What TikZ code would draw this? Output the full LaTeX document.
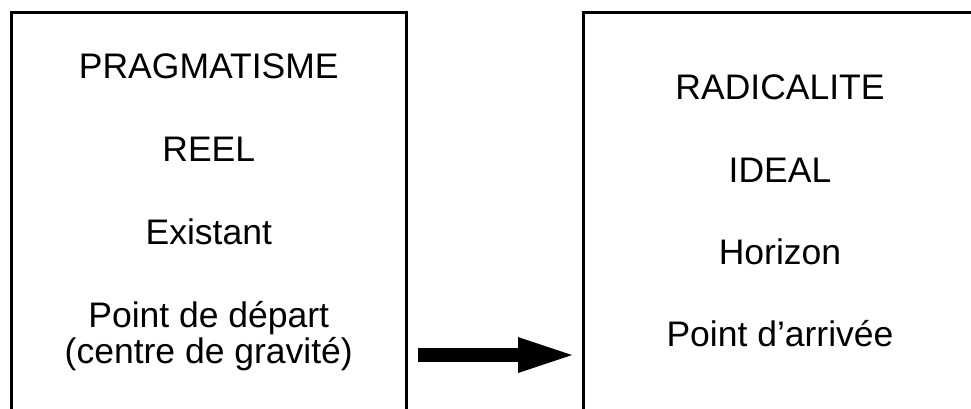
\documentclass[tikz,border=0pt]{standalone}
\usepackage{fontspec}
\setmainfont{Liberation Sans}
\usetikzlibrary{arrows.meta}
\begin{document}
\begin{tikzpicture}[x=1pt,y=1pt,
  box/.style={draw=black,line width=3pt,line join=miter},
  txt/.style={anchor=base,inner sep=0pt,font=\fontsize{35.5}{40}\selectfont},
  bigarrow/.style={line width=14pt,-{Triangle[length=54pt 0 0,width=36pt 0 0,line width=0pt 0 0]}}]
\useasboundingbox (0,0) rectangle (971,408);
\draw[box] (11.5,-20) -- (11.5,395.5) -- (406.5,395.5) -- (406.5,-20);
\draw[box] (583,-20) -- (583,395.5) -- (990,395.5);
\coordinate (L) at (406.5,53);
\coordinate (R) at (583,53);
\node[txt] (p1) at (208.75,330) {PRAGMATISME};
\node[txt] (p2) at (208.75,247) {REEL};
\node[txt] (p3) at (208.75,164) {Existant};
\node[txt] (p4) at (208.75,81) {Point de départ};
\node[txt] (p5) at (208.75,45) {(centre de gravité)};
\node[txt] (r1) at (780,309) {RADICALITE};
\node[txt] (r2) at (780,226) {IDEAL};
\node[txt] (r3) at (780,144) {Horizon};
\node[txt] (r4) at (780,62) {Point d’arrivée};
\draw[bigarrow,shorten <=11.5pt,shorten >=11pt] (L) -- (R);
\end{tikzpicture}
\end{document}
